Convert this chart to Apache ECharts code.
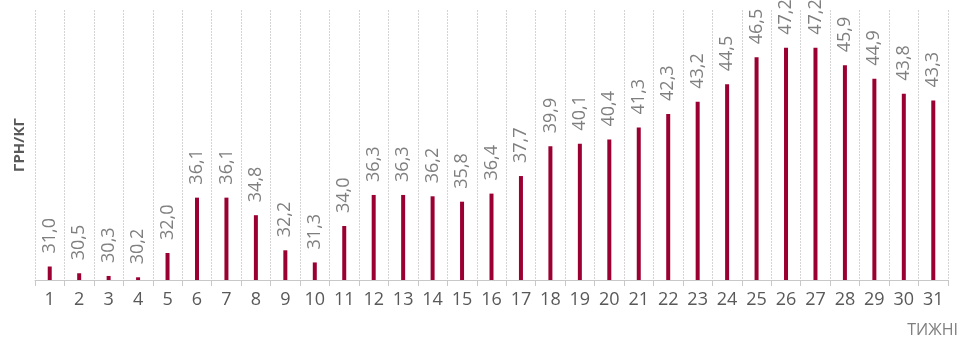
<!DOCTYPE html>
<html><head><meta charset="utf-8">
<script src="https://cdn.jsdelivr.net/npm/echarts@6/dist/echarts.min.js"></script>
<style>html,body{margin:0;padding:0;background:#fff}#c{width:975px;height:345px}</style>
</head><body><div id="c"></div>
<script>
const weeks = ['1','2','3','4','5','6','7','8','9','10','11','12','13','14','15','16','17','18','19','20','21','22','23','24','25','26','27','28','29','30','31'];
const prices = [31.0,30.5,30.3,30.2,32.0,36.1,36.1,34.8,32.2,31.3,34.0,36.3,36.3,36.2,35.8,36.4,37.7,39.9,40.1,40.4,41.3,42.3,43.2,44.5,46.5,47.2,47.2,45.9,44.9,43.8,43.3];
const yName = 'ГРН/КГ';
const xName = 'ТИЖНІ';

const chart = echarts.init(document.getElementById('c'), null, {renderer:'canvas'});
chart.setOption({
  animation:false,
  grid:{left:35, right:27, top:10, bottom:65},
  xAxis:{
    type:'category', data:weeks, boundaryGap:true,
    name:xName, nameLocation:'end',
    nameTextStyle:{color:'#7f7f7f', fontSize:16, fontFamily:'Open Sans', align:'right', verticalAlign:'top', padding:[42,0,0,0]},
    nameGap:10,
    axisLine:{lineStyle:{color:'#c8c8c8', width:1}},
    axisTick:{show:true, length:6, lineStyle:{color:'#c8c8c8'}},
    axisLabel:{color:'#595959', fontSize:18, fontFamily:'Open Sans', margin:11, interval:0},
    splitLine:{show:true, lineStyle:{color:'#d4d4d4', type:[2,1], width:1}}
  },
  yAxis:{
    type:'value', min:30, max:50,
    name:yName, nameLocation:'middle', nameGap:8,
    nameTextStyle:{color:'#595959', fontSize:15, fontWeight:'bold', fontFamily:'Open Sans'},
    axisLine:{show:false}, axisTick:{show:false}, axisLabel:{show:false}, splitLine:{show:false}
  },
  series:[{
    type:'bar', data:prices, barWidth:4,
    itemStyle:{color:'#9b0033'},
    label:{show:true, position:'top', rotate:90, align:'left', verticalAlign:'middle', distance:13,
      color:'#7f7f7f', fontSize:18, fontFamily:'Open Sans',
      formatter:p=>p.value.toFixed(1).replace('.',',')}
  }]
});
</script></body></html>
